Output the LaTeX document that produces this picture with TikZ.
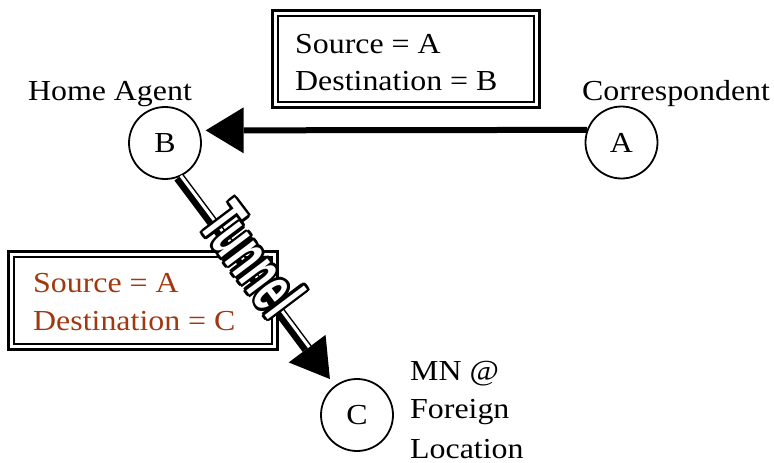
\documentclass[tikz,border=0pt]{standalone}
\usepackage{fontspec}
\setmainfont{Liberation Serif}[FakeStretch=1.1]
\newfontfamily\tunnelfont{Liberation Sans}[FakeStretch=0.55]
\usetikzlibrary{arrows.meta,calc}
\definecolor{labbrown}{RGB}{160,56,16}
\begin{document}
\begin{tikzpicture}[x=1pt,y=-1pt,
  lbl/.style={font=\fontsize{29}{35}\selectfont, inner sep=0pt},
  host/.style={circle, draw, line width=1.8pt, minimum size=72pt, inner sep=0pt, font=\fontsize{29}{35}\selectfont},
  inbox/.style={draw, line width=1.5pt, inner sep=0pt},
  outbox/.style={line width=3pt},
  flow/.style={line width=6pt, -{Triangle[length=38pt,width=46pt,line width=0pt]}},
  tun/.style={line width=11pt, -{Triangle[length=38pt,width=46pt,line width=0pt]}},
  tunl/.style={font=\tunnelfont\bfseries\fontsize{68}{70}\selectfont, rotate=-53, inner sep=0pt},
]
\useasboundingbox (0,0) rectangle (774,463);

% hosts
\node[host] (B) at (165,143) {B};
\node[host] (A) at (621.5,142.5) {A};
\node[host] (C) at (357,415) {C};

% labels
\node[lbl, anchor=base] (ha) at (110,100) {Home Agent};
\node[lbl, anchor=base west] (cr) at (582,100) {Correspondent};
\node[lbl, anchor=base west] (mn1) at (410,380) {MN @};
\node[lbl, anchor=base west] (mn2) at (410,418) {Foreign};
\node[lbl, anchor=base west] (mn3) at (410,458) {Location};

% packet box 1
\node[inbox, minimum width=256pt, minimum height=86pt] (box1) at (406,59) {};
\draw[outbox] ([shift={(-5pt,5pt)}]box1.north west) rectangle ([shift={(5pt,-5pt)}]box1.south east);
\node[lbl, anchor=base west] (s1) at (295,53) {Source = A};
\node[lbl, anchor=base west] (d1) at (295,90) {Destination = B};

% packet box 2
\node[inbox, minimum width=258pt, minimum height=87pt] (box2) at (143,300.5) {};
\draw[outbox] ([shift={(-5pt,5pt)}]box2.north west) rectangle ([shift={(5pt,-5pt)}]box2.south east);
\node[lbl, anchor=base west, text=labbrown] (s2) at (33,292) {Source = A};
\node[lbl, anchor=base west, text=labbrown] (d2) at (33,330) {Destination = C};

% A -> B
\draw[flow] (A.160) -- ($(B.20)+(6,0)$);

% tunnel B -> C
\coordinate (tt) at ($(C.center)+(127:45pt)$);
\coordinate (tb) at ($(tt)!38pt!(B.-68)$);
\draw[tun] (B.-68) -- (tt);
\draw[white, line width=3pt] ($(B.-68)+(2,-1.5)$) -- ($(tb)+(2,-1.5)$);

% tunnel label, outlined
\foreach \a in {0,30,...,330}
  \node[tunl, text=black] (tun\a) at ($(253,259)+(\a:2.8pt)$) {Tunnel};
\node[tunl, text=white] (tunnel) at (253,259) {Tunnel};
\end{tikzpicture}
\end{document}
